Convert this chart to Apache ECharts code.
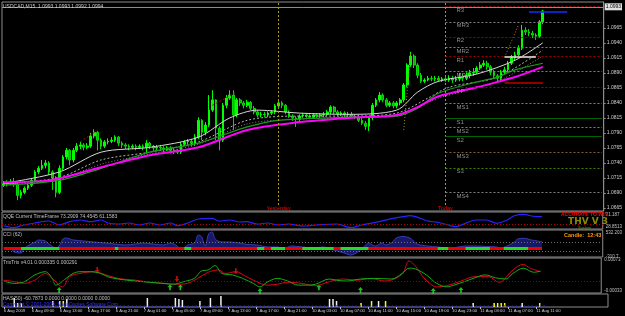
<!DOCTYPE html>
<html><head><meta charset="utf-8">
<script src="https://cdn.jsdelivr.net/npm/echarts@6/dist/echarts.min.js"></script>
<style>html,body{margin:0;padding:0;background:#000;}#c{width:625px;height:316px;}</style>
</head><body><div id="c"></div>
<script>
// ---------- DATA ----------
const headerText = 'USDCAD,M15  1.0993 1.0993 1.0992 1.0994';
const timeLabels = ['6 Aug 2009','6 Aug 09:00','6 Aug 13:00','6 Aug 17:00','6 Aug 21:00','7 Aug 01:00','7 Aug 05:00','7 Aug 09:00','7 Aug 13:00','7 Aug 17:00','7 Aug 21:00','10 Aug 03:00','10 Aug 07:00','10 Aug 11:00','10 Aug 15:00','10 Aug 19:00','10 Aug 23:00','11 Aug 03:00','11 Aug 07:00','11 Aug 11:00'];
const priceTicks = [1.0665,1.0690,1.0715,1.0740,1.0765,1.0790,1.0815,1.0840,1.0865,1.0890,1.0915,1.0940,1.0965];
const firstOpen = 1.0703;
const closes = [
1.0705,1.0706,1.0708,1.0705,1.0686,1.0691,1.0698,1.0703,1.0711,1.0725,
1.0731,1.0736,1.0740,1.0725,1.0715,1.0691,1.0731,1.0750,1.0761,1.0745,
1.0761,1.0768,1.0770,1.0766,1.0768,1.0785,1.0791,1.0778,1.0768,1.0775,
1.0776,1.0778,1.0783,1.0773,1.0770,1.0768,1.0766,1.0768,1.0766,1.0768,
1.0766,1.0773,1.0768,1.0765,1.0766,1.0765,1.0763,1.0765,1.0761,1.0760,
1.0758,1.0771,1.0775,1.0776,1.0773,1.0783,1.0811,1.0791,1.0803,1.0828,
1.0845,1.0798,1.0778,1.0836,1.0848,1.0853,1.0820,1.0845,1.0840,1.0836,
1.0841,1.0831,1.0825,1.0820,1.0821,1.0820,1.0823,1.0825,1.0835,1.0840,
1.0836,1.0825,1.0818,1.0815,1.0813,1.0818,1.0820,1.0818,1.0816,1.0820,
1.0818,1.0820,1.0821,1.0825,1.0833,1.0825,1.0821,1.0823,1.0820,1.0821,
1.0818,1.0816,1.0811,1.0806,1.0801,1.0815,1.0836,1.0845,1.0853,1.0845,
1.0836,1.0840,1.0835,1.0840,1.0845,1.0870,1.0903,1.0918,1.0903,1.0886,
1.0876,1.0878,1.0881,1.0880,1.0881,1.0878,1.0880,1.0878,1.0881,1.0878,
1.0880,1.0883,1.0881,1.0886,1.0890,1.0891,1.0898,1.0903,1.0906,1.0900,
1.0891,1.0885,1.0881,1.0891,1.0895,1.0906,1.0915,1.0920,1.0931,1.0961,
1.0958,1.0956,1.0953,1.0951,1.0975,1.0993];
const highs = [
1.0710,1.0711,1.0713,1.0715,1.0708,1.0695,1.0701,1.0706,1.0715,1.0728,
1.0735,1.0745,1.0745,1.0743,1.0728,1.0718,1.0736,1.0753,1.0765,1.0763,
1.0765,1.0773,1.0775,1.0773,1.0773,1.0790,1.0796,1.0793,1.0781,1.0778,
1.0781,1.0783,1.0786,1.0785,1.0776,1.0773,1.0771,1.0771,1.0771,1.0771,
1.0771,1.0778,1.0775,1.0770,1.0770,1.0770,1.0768,1.0768,1.0768,1.0765,
1.0763,1.0775,1.0778,1.0780,1.0780,1.0788,1.0816,1.0813,1.0808,1.0853,
1.0861,1.0846,1.0801,1.0840,1.0853,1.0861,1.0861,1.0848,1.0848,1.0843,
1.0845,1.0843,1.0835,1.0828,1.0825,1.0825,1.0826,1.0828,1.0838,1.0843,
1.0843,1.0838,1.0828,1.0821,1.0818,1.0821,1.0823,1.0823,1.0821,1.0823,
1.0823,1.0823,1.0825,1.0828,1.0836,1.0835,1.0828,1.0826,1.0826,1.0825,
1.0825,1.0821,1.0820,1.0815,1.0810,1.0818,1.0840,1.0848,1.0858,1.0856,
1.0848,1.0843,1.0843,1.0843,1.0848,1.0873,1.0906,1.0925,1.0921,1.0906,
1.0890,1.0881,1.0885,1.0885,1.0885,1.0885,1.0883,1.0883,1.0886,1.0885,
1.0885,1.0890,1.0888,1.0891,1.0895,1.0898,1.0901,1.0908,1.0911,1.0910,
1.0903,1.0895,1.0888,1.0895,1.0900,1.0910,1.0920,1.0925,1.0936,1.0970,
1.0966,1.0963,1.0960,1.0956,1.0978,1.0995];
const lows = [
1.0700,1.0701,1.0703,1.0700,1.0678,1.0681,1.0688,1.0695,1.0700,1.0708,
1.0721,1.0728,1.0731,1.0720,1.0695,1.0683,1.0688,1.0728,1.0746,1.0736,
1.0741,1.0758,1.0763,1.0761,1.0763,1.0765,1.0781,1.0761,1.0763,1.0765,
1.0771,1.0773,1.0775,1.0768,1.0765,1.0763,1.0761,1.0763,1.0761,1.0763,
1.0761,1.0756,1.0763,1.0760,1.0761,1.0760,1.0758,1.0760,1.0756,1.0755,
1.0755,1.0755,1.0768,1.0771,1.0768,1.0770,1.0780,1.0778,1.0786,1.0800,
1.0825,1.0778,1.0761,1.0775,1.0831,1.0845,1.0795,1.0816,1.0835,1.0831,
1.0833,1.0828,1.0821,1.0816,1.0816,1.0816,1.0816,1.0820,1.0821,1.0831,
1.0831,1.0821,1.0815,1.0810,1.0800,1.0810,1.0815,1.0815,1.0813,1.0813,
1.0815,1.0815,1.0816,1.0818,1.0821,1.0821,1.0818,1.0818,1.0816,1.0816,
1.0815,1.0813,1.0808,1.0803,1.0795,1.0793,1.0811,1.0833,1.0841,1.0841,
1.0833,1.0833,1.0831,1.0831,1.0836,1.0841,1.0866,1.0900,1.0898,1.0881,
1.0873,1.0873,1.0876,1.0876,1.0876,1.0875,1.0875,1.0875,1.0875,1.0873,
1.0875,1.0876,1.0876,1.0878,1.0881,1.0885,1.0888,1.0895,1.0900,1.0895,
1.0886,1.0880,1.0875,1.0878,1.0888,1.0891,1.0903,1.0911,1.0916,1.0928,
1.0953,1.0951,1.0948,1.0945,1.0948,1.0971];
const lastPrice = 1.0993;

const pivotNames  = ['R3','MR3','R2','MR2','R1','MR1','PP','MS1','S1','MS2','S2','MS3','S3','MS4'];
const pivotValues = [1.1001,1.0975,1.0950,1.0933,1.0917,1.0893,1.0866,1.0840,1.0815,1.0800,1.0784,1.0758,1.0732,1.0691];
const pivotColors = ['#9a0000','#808080','#9a0000','#808080','#9a0000','#808080','#2020c0','#808080','#006400','#808080','#006400','#806040','#408000','#808080'];

const maMagenta = [[0,1.0708],[13,1.0711],[28,1.0733],[42,1.0753],[56,1.0766],[70,1.0795],[85,1.0808],[99,1.0815],[113,1.0820],[119,1.0833],[125,1.0851],[136,1.0866],[142,1.0875],[147,1.0883],[155,1.0900]];
const maGreen   = [[0,1.0703],[16,1.0711],[28,1.0731],[42,1.0758],[56,1.0773],[70,1.0800],[79,1.0811],[99,1.0816],[113,1.0818],[119,1.0831],[125,1.0856],[136,1.0875],[142,1.0883],[147,1.0895],[155,1.0906]];
const maWhite1  = [[0,1.0706],[16,1.0725],[28,1.0758],[42,1.0766],[56,1.0783],[65,1.0815],[73,1.0828],[85,1.0823],[99,1.0821],[113,1.0828],[119,1.0858],[125,1.0876],[136,1.0888],[147,1.0911],[155,1.0940]];
const maWhite2  = [[0,1.0705],[16,1.0716],[28,1.0745],[42,1.0758],[56,1.0775],[70,1.0811],[85,1.0818],[99,1.0818],[113,1.0823],[122,1.0848],[128,1.0866],[142,1.0883],[155,1.0928]];
const maWhite3  = [[0,1.0703],[16,1.0713],[28,1.0738],[42,1.0755],[56,1.0771],[70,1.0805],[85,1.0813],[113,1.0820],[125,1.0848],[142,1.0876],[155,1.0918]];
// swing-to-swing dotted trend segments (null separates segments)
const zigRed    = [[22,1.0775],[27,1.0795],null,[60,1.0836],[67,1.0858]];
const zigYellow = [[115,1.0795],[117,1.0923],null,[144,1.0916],[148,1.0970]];

const qqe = [[0,31.6],[3,24.6],[5,31.6],[9,41.2],[13,48.2],[16,34.1],[19,45.8],[22,51.8],[25,45.8],[28,51.8],[30,41.2],[33,37.6],[36,41.2],[39,34.1],[42,41.2],[45,34.1],[48,41.2],[50,31.6],[53,41.2],[56,55.3],[60,57.8],[62,48.2],[65,51.8],[68,44.7],[70,45.8],[73,37.6],[76,41.2],[79,34.1],[82,37.6],[85,31.6],[87,30.6],[90,34.1],[96,37.6],[100,24.6],[103,34.1],[108,45.8],[112,57.8],[115,63.4],[117,66.9],[120,57.8],[122,48.2],[125,43.6],[128,34.1],[130,28.1],[133,40.1],[136,51.8],[139,51.8],[142,40.1],[145,51.8],[147,66.9],[150,71.9],[152,65.9],[155,63.4]];
const qqeLevel = 38;

const cci = [[0,0],[2,0],[3,-142],[5,-178],[6,0],[9,213],[10,284],[12,249],[13,142],[15,0],[16,71],[17,320],[18,355],[20,284],[23,249],[26,213],[29,178],[32,142],[35,107],[38,142],[40,178],[43,142],[46,107],[48,178],[50,71],[51,-71],[53,107],[55,178],[56,462],[57,400],[58,71],[59,500],[60,570],[61,300],[63,213],[65,213],[68,178],[70,124],[73,107],[76,36],[79,36],[80,-36],[83,71],[86,36],[89,0],[92,36],[95,-71],[98,-178],[100,-249],[102,-142],[104,71],[105,178],[107,71],[109,178],[110,107],[112,213],[113,355],[115,408],[117,355],[119,142],[122,71],[125,36],[128,0],[130,18],[133,71],[136,71],[139,53],[142,36],[143,0],[145,71],[147,213],[148,320],[150,344],[152,284],[155,224]];
const cciGreenRanges = [[5,16],[32,33],[52,54],[73,75],[77,81],[86,95],[97,105],[125,128],[133,140],[144,151]];
const cciLevels = [200,-100];

const trixGreen = [[0,0.00001],[3,-0.00007],[6,-0.00001],[9,0.00022],[12,0.00033],[14,0.00010],[15,-0.00013],[18,0.00010],[20,0.00027],[22,0.00033],[25,0.00033],[28,0.00027],[30,0.00016],[33,0.00008],[38,0.00001],[42,-0.00003],[46,-0.00007],[49,-0.00010],[52,-0.00001],[55,0.00010],[57,0.00035],[59,0.00039],[61,0.00054],[63,0.00027],[66,0.00022],[69,0.00010],[72,-0.00007],[74,-0.00019],[76,-0.00003],[79,0.00010],[82,0.00001],[85,-0.00013],[87,-0.00013],[90,-0.00010],[94,0.00008],[96,0.00004],[99,0.00001],[103,0.00008],[107,0.00010],[112,0.00008],[115,0.00027],[117,0.00045],[119,0.00042],[122,0.00022],[125,-0.00007],[128,-0.00019],[130,-0.00013],[133,-0.00001],[136,0.00012],[139,0.00022],[142,0.00012],[145,0.00008],[147,0.00027],[150,0.00045],[153,0.00031],[155,0.00035]];
const trixRed = [[0,0.00004],[3,-0.00001],[6,-0.00007],[9,0.00004],[12,0.00027],[14,0.00010],[17,-0.00019],[19,0.00016],[22,0.00027],[26,0.00033],[29,0.00024],[33,0.00010],[38,0.00004],[42,-0.00003],[46,-0.00007],[50,-0.00010],[53,-0.00007],[56,0.00010],[59,0.00031],[62,0.00039],[64,0.00027],[67,0.00033],[70,0.00016],[73,-0.00001],[76,-0.00013],[79,-0.00010],[82,-0.00003],[86,-0.00007],[90,-0.00015],[94,-0.00001],[98,0.00008],[102,0.00004],[106,0.00010],[110,0.00001],[115,0.00024],[117,0.00070],[119,0.00050],[121,0.00016],[123,-0.00007],[125,-0.00019],[128,-0.00015],[132,0.00001],[136,0.00016],[140,0.00016],[143,-0.00003],[144,0.00001],[147,0.00039],[150,0.00058],[152,0.00045],[155,0.00033]];
const trixLevels = [0.0005, 0];
const upArrows = [[16,-0.00030],[48,-0.00020],[51,-0.00020],[74,-0.00033],[91,-0.00020],[103,-0.00030],[124,-0.00033],[132,-0.00030]];
const downArrows = [[27,0.00039],[50,0.00008],[67,0.00035]];

const whiteBars = [[3,9],[14,6],[18,8],[41,9],[49,9],[50,8],[51,7],[56,6],[59,9],[62,11],[93,8],[94,8],[95,6],[107,6],[134,4],[148,4]];
const yellowBars = [[4,4],[5,4],[16,6],[17,6],[102,4],[105,6],[109,6],[140,4],[141,4],[142,4],[143,4],[153,4]];

// ---------- CHART ----------
const N = 173;
const cats = Array.from({length: N}, (_, i) => String(i));
const FONT = 'Liberation Sans';
const GRIDS = [
  {top: 2,   height: 209},
  {top: 212, height: 17},
  {top: 230, height: 27},
  {top: 258, height: 35},
  {top: 294, height: 13}
];
const candleData = closes.map((c, i) => [i === 0 ? firstOpen : closes[i - 1], c, lows[i], highs[i]]);
const showTick = (i) => i % 8 === 0 && (i / 8) < timeLabels.length;

const chart = echarts.init(document.getElementById('c'), null, {renderer: 'canvas'});
const dotted = (c) => ({color: c, type: [1, 2], width: 1});

const pivotLines = pivotValues.map((v, k) => [
  {coord: [cats[127], v], lineStyle: {color: pivotColors[k], type: (k === 8 || k === 10) ? 'solid' : [2, 2], width: 1},
   label: {show: true, formatter: pivotNames[k], position: 'insideStartBottom', distance: [11, 1], color: '#8c8c8c', fontSize: 6, fontFamily: FONT}},
  {coord: [cats[172], v]}
]);
const dayLine = (idx, name) => [
  {coord: [cats[idx], 1.0670], lineStyle: {color: '#b0a000', type: [2, 2], width: 1},
   label: {show: true, position: 'start', formatter: name, color: '#ff0000', fontSize: 5.5, distance: 0}},
  {coord: [cats[idx], 1.1008]}
];

const option = {
  backgroundColor: '#000',
  animation: false,
  textStyle: {fontFamily: FONT},
  title: [
    {text: headerText, left: 3, top: 4, padding: 0, textStyle: {fontSize: 5, color: '#d0d0d0', fontWeight: 'normal'}},
    {text: 'QQE Current TimeFrame 73.2909 74.4545 61.1583', left: 3, top: 214, padding: 0, textStyle: {fontSize: 5, color: '#c0c0c0', fontWeight: 'normal'}},
    {text: 'CCI (62)', left: 3, top: 232, padding: 0, textStyle: {fontSize: 5, color: '#c0c0c0', fontWeight: 'normal'}},
    {text: 'TrixTrix v4.01 0.000335 0.000291', left: 3, top: 260, padding: 0, textStyle: {fontSize: 5, color: '#c0c0c0', fontWeight: 'normal'}},
    {text: 'HAS(50) -60.7873 0.0000 0.0000 0.0000 0.0000', left: 3, top: 296, padding: 0, textStyle: {fontSize: 5, color: '#c0c0c0', fontWeight: 'normal'}},
    {text: 'Copyright © 2001-2009, MetaQuotes Software Corp.', left: 3, top: 302, padding: 0, textStyle: {fontSize: 5, color: '#3030ff', fontWeight: 'normal'}},
    {text: 'ACCURATE TO WIN', left: 561, top: 212, padding: 0, textStyle: {fontSize: 5, color: '#ff0000', fontWeight: 'bold'}},
    {text: 'THV V 3', left: 568, top: 217, padding: 0, textStyle: {fontSize: 9, color: '#8a8a00', fontWeight: 'bold', fontFamily: 'DejaVu Sans'}},
    {text: 'System', left: 578, top: 226, padding: 0, textStyle: {fontSize: 4, color: '#5a8a00', fontWeight: 'normal'}},
    {text: 'Candle:  12:43', left: 564, top: 232, padding: 0, textStyle: {fontSize: 5.5, color: '#ff9900', fontWeight: 'bold'}}
  ],
  grid: GRIDS.map(g => ({left: 2, right: 17, top: g.top, height: g.height, show: true, borderColor: '#8c8c8c', borderWidth: 1})),
  xAxis: GRIDS.map((g, k) => ({
    type: 'category', gridIndex: k, data: cats, boundaryGap: true,
    axisLine: {show: false}, splitLine: {show: false},
    axisTick: {show: k === 4, interval: (i) => showTick(i), alignWithLabel: true, length: 2, lineStyle: {color: '#c0c0c0'}},
    axisLabel: {show: k === 4, interval: (i) => showTick(i), formatter: (v, i) => timeLabels[i / 8], align: 'left', fontSize: 4.2, color: '#d0d0d0', margin: 2}
  })),
  yAxis: [
    {type: 'value', gridIndex: 0, position: 'right', min: 1.0660, max: 1.1008, scale: true,
     axisLine: {show: true, lineStyle: {color: '#8c8c8c'}}, splitLine: {show: false},
     axisTick: {show: true, customValues: priceTicks, length: 2, lineStyle: {color: '#8c8c8c'}},
     axisLabel: {customValues: priceTicks, formatter: v => v.toFixed(4), fontSize: 5, color: '#d0d0d0', margin: 3}},
    {type: 'value', gridIndex: 1, position: 'right', min: 20, max: 80,
     axisLine: {show: false}, splitLine: {show: false}, axisTick: {show: false},
     axisLabel: {customValues: [28.8513, 71.187], formatter: v => String(v), fontSize: 4.5, color: '#c0c0c0', margin: 3}},
    {type: 'value', gridIndex: 2, position: 'right', min: -320, max: 640,
     axisLine: {show: false}, splitLine: {show: false}, axisTick: {show: false},
     axisLabel: {customValues: [-310.7, 532.203], formatter: v => String(v), fontSize: 4.5, color: '#c0c0c0', margin: 3}},
    {type: 'value', gridIndex: 3, position: 'right', min: -0.0004, max: 0.0008,
     axisLine: {show: false}, splitLine: {show: false}, axisTick: {show: false},
     axisLabel: {customValues: [-0.00033, 0.00073], formatter: v => v.toFixed(5), fontSize: 4.5, color: '#c0c0c0', margin: 3}},
    {type: 'value', gridIndex: 4, position: 'right', min: 0, max: 13,
     axisLine: {show: false}, splitLine: {show: false}, axisTick: {show: false},
     axisLabel: {show: false}}
  ],
  series: [
    {type: 'line', name: 'w3', xAxisIndex: 0, yAxisIndex: 0, data: maWhite3, showSymbol: false, smooth: 0.3, lineStyle: {color: '#8a8a8a', width: 1, type: [1, 2]}, silent: true},
    {type: 'line', name: 'w2', xAxisIndex: 0, yAxisIndex: 0, data: maWhite2, showSymbol: false, smooth: 0.3, lineStyle: {color: '#b0b0b0', width: 1, type: [2, 2]}, silent: true},
    {type: 'line', name: 'w1', xAxisIndex: 0, yAxisIndex: 0, data: maWhite1, showSymbol: false, smooth: 0.3, lineStyle: {color: '#d8d8d8', width: 1}, silent: true},
    {type: 'line', name: 'green', xAxisIndex: 0, yAxisIndex: 0, data: maGreen, showSymbol: false, smooth: 0.3, lineStyle: {color: '#1a9a1a', width: 1.2}, silent: true},
    {type: 'line', name: 'magenta', xAxisIndex: 0, yAxisIndex: 0, data: maMagenta, showSymbol: false, smooth: 0.3, lineStyle: {color: '#ff00ff', width: 2}, silent: true},
    {type: 'line', name: 'zigRed', xAxisIndex: 0, yAxisIndex: 0, data: zigRed, showSymbol: false, connectNulls: false, lineStyle: {color: '#a01010', width: 1, type: [2, 2]}, silent: true},
    {type: 'line', name: 'zigYellow', xAxisIndex: 0, yAxisIndex: 0, data: zigYellow, showSymbol: false, connectNulls: false, lineStyle: {color: '#a09000', width: 1, type: [1, 2]}, silent: true},
    {type: 'candlestick', xAxisIndex: 0, yAxisIndex: 0, data: candleData, barWidth: 2.2,
     itemStyle: {color: '#00ff00', color0: '#00b000', borderColor: '#00ff00', borderColor0: '#00dd00', borderWidth: 1},
     markLine: {silent: true, symbol: ['none', 'none'], animation: false,
       data: [
         {yAxis: lastPrice, lineStyle: {color: '#8c8c8c', type: 'solid', width: 1},
          label: {show: true, position: 'end', formatter: lastPrice.toFixed(4), backgroundColor: '#e0e0e0', color: '#000', fontSize: 5, padding: [1, 1], distance: 1}},
         dayLine(79, 'Yesterday'),
         dayLine(127, 'Today'),
         ...pivotLines,
         [{coord: [cats[151], 1.0991], lineStyle: {color: '#1030ff', type: 'solid', width: 1.5}, label: {show: false}}, {coord: [cats[162], 1.0991]}],
         [{coord: [cats[144], 1.0917], lineStyle: {color: '#e8e8e8', type: 'solid', width: 1.5}, label: {show: false}}, {coord: [cats[153], 1.0917]}],
         [{coord: [cats[144], 1.0873], lineStyle: {color: '#c00000', type: 'solid', width: 1.5}, label: {show: false}}, {coord: [cats[155], 1.0873]}]
       ]}},
    // QQE
    {type: 'line', xAxisIndex: 1, yAxisIndex: 1, data: qqe, showSymbol: false, smooth: 0.3, lineStyle: {color: '#2424ff', width: 1.2}, silent: true,
     markLine: {silent: true, symbol: ['none', 'none'], data: [{yAxis: qqeLevel, lineStyle: dotted('#b00000'), label: {show: false}}]}},
    // CCI
    {type: 'line', xAxisIndex: 2, yAxisIndex: 2, data: cci, showSymbol: false, smooth: 0.3, lineStyle: {color: '#3a3ab0', width: 1}, areaStyle: {color: '#18186a', opacity: 1}, silent: true,
     markLine: {silent: true, symbol: ['none', 'none'], data: [
       ...cciLevels.map(v => ({yAxis: v, lineStyle: dotted('#707070'), label: {show: false}})),
       [{coord: [cats[0], 0], lineStyle: {color: '#ee0000', width: 3, type: 'solid'}, label: {show: false}}, {coord: [cats[155], 0]}],
       ...cciGreenRanges.map(([a, b]) => [{coord: [cats[a], 0], lineStyle: {color: '#22dd22', width: 3, type: 'solid'}, label: {show: false}}, {coord: [cats[b], 0]}])
     ]}},
    // Trix
    {type: 'line', xAxisIndex: 3, yAxisIndex: 3, data: trixRed, showSymbol: false, smooth: 0.35, lineStyle: {color: '#e00020', width: 1}, silent: true,
     markLine: {silent: true, symbol: ['none', 'none'], data: trixLevels.map(v => ({yAxis: v, lineStyle: dotted('#900000'), label: {show: false}}))}},
    {type: 'line', xAxisIndex: 3, yAxisIndex: 3, data: trixGreen, showSymbol: false, smooth: 0.35, lineStyle: {color: '#10b010', width: 1}, silent: true},
    {type: 'scatter', xAxisIndex: 3, yAxisIndex: 3, data: upArrows, symbol: 'path://M3,0 L6,3 L4,3 L4,6 L2,6 L2,3 L0,3 Z', symbolSize: [5, 6], itemStyle: {color: '#22ee22'}, silent: true},
    {type: 'scatter', xAxisIndex: 3, yAxisIndex: 3, data: downArrows, symbol: 'path://M3,6 L6,3 L4,3 L4,0 L2,0 L2,3 L0,3 Z', symbolSize: [5, 6], itemStyle: {color: '#ee1111'}, silent: true},
    // bottom histogram
    {type: 'bar', xAxisIndex: 4, yAxisIndex: 4, data: whiteBars, barWidth: 1.5, itemStyle: {color: '#f0f0f0'}, silent: true,
     markLine: {silent: true, symbol: ['none', 'none'], data: [[{coord: [cats[0], 1], lineStyle: {color: '#2020ff', width: 1.5, type: [1, 3]}, label: {show: false}}, {coord: [cats[155], 1]}]]}},
    {type: 'bar', xAxisIndex: 4, yAxisIndex: 4, data: yellowBars, barWidth: 1.5, barGap: '-100%', itemStyle: {color: '#ffff00'}, silent: true}
  ]
};
chart.setOption(option);
</script>
</body></html>
